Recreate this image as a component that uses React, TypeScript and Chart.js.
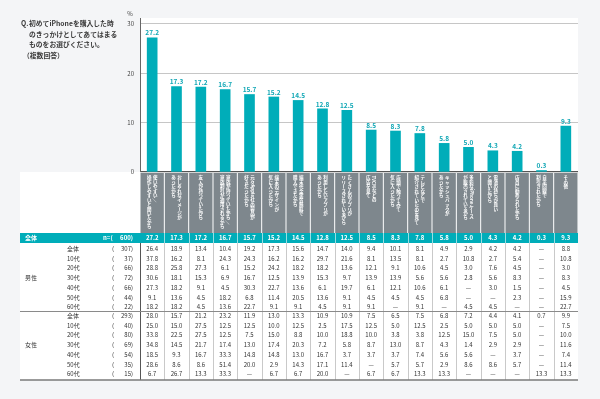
import React, { useEffect, useRef } from 'react';
import { Chart, registerables } from 'chart.js';

Chart.register(...registerables);

// ---------- DATA ----------
const categoryLabels: string[][] = [
  ['使いやすい／', '操作しやすいと聞いたから'],
  ['おしゃれなイメージが', 'あったから'],
  ['友人が持っていたから'],
  ['家族が持っていたから／', '家族割引が適用されるから'],
  ['元々Apple社の製品が', '好きだったから'],
  ['端末のデザインが', '気に入ったから'],
  ['端末代金実質無料で', '購入できたから'],
  ['利用したいアプリが', 'あったから'],
  ['たくさんのアプリが', 'リリースされているから'],
  ['TVCMなどの', '広告を見て'],
  ['店頭で触ってみて', '気に入ったから'],
  ['テレビなどで', '紹介されていたのを見て'],
  ['キャッシュバックが', 'あったから'],
  ['多彩なiPhoneケース', 'が販売されているから'],
  ['電池の持ちが良い', 'と聞いたから'],
  ['店員に勧められたから'],
  ['自宅回線で', '割引されたから'],
  ['その他'],
];

const totalValues = [27.2, 17.3, 17.2, 16.7, 15.7, 15.2, 14.5, 12.8, 12.5, 8.5, 8.3, 7.8, 5.8, 5.0, 4.3, 4.2, 0.3, 9.3];
const totalLabel = '全体';
const totalN = 600;

const yTicks = [0, 10, 20, 30];
const yUnit = '%';

const questionLines = ['初めてiPhoneを購入した時', 'のきっかけとしてあてはまる', 'ものをお選びください。', '（複数回答）'];

const ageGroups = ['全体', '10代', '20代', '30代', '40代', '50代', '60代'];

const maleLabel = '男性';
const maleCounts = [307, 37, 66, 72, 66, 44, 22];
const maleAll = [26.4, 18.9, 13.4, 10.4, 19.2, 17.3, 15.6, 14.7, 14.0, 9.4, 10.1, 8.1, 4.9, 2.9, 4.2, 4.2, null, 8.8];
const male10 = [37.8, 16.2, 8.1, 24.3, 24.3, 16.2, 16.2, 29.7, 21.6, 8.1, 13.5, 8.1, 2.7, 10.8, 2.7, 5.4, null, 10.8];
const male20 = [28.8, 25.8, 27.3, 6.1, 15.2, 24.2, 18.2, 18.2, 13.6, 12.1, 9.1, 10.6, 4.5, 3.0, 7.6, 4.5, null, 3.0];
const male30 = [30.6, 18.1, 15.3, 6.9, 16.7, 12.5, 13.9, 15.3, 9.7, 13.9, 13.9, 5.6, 5.6, 2.8, 5.6, 8.3, null, 8.3];
const male40 = [27.3, 18.2, 9.1, 4.5, 30.3, 22.7, 13.6, 6.1, 19.7, 6.1, 12.1, 10.6, 6.1, null, 3.0, 1.5, null, 4.5];
const male50 = [9.1, 13.6, 4.5, 18.2, 6.8, 11.4, 20.5, 13.6, 9.1, 4.5, 4.5, 4.5, 6.8, null, null, 2.3, null, 15.9];
const male60 = [18.2, 18.2, 4.5, 13.6, 22.7, 9.1, 9.1, 4.5, 9.1, 9.1, null, 9.1, null, 4.5, 4.5, null, null, 22.7];

const femaleLabel = '女性';
const femaleCounts = [293, 40, 80, 69, 54, 35, 15];
const femaleAll = [28.0, 15.7, 21.2, 23.2, 11.9, 13.0, 13.3, 10.9, 10.9, 7.5, 6.5, 7.5, 6.8, 7.2, 4.4, 4.1, 0.7, 9.9];
const female10 = [25.0, 15.0, 27.5, 12.5, 12.5, 10.0, 12.5, 2.5, 17.5, 12.5, 5.0, 12.5, 2.5, 5.0, 5.0, 5.0, null, 7.5];
const female20 = [33.8, 22.5, 27.5, 12.5, 7.5, 15.0, 8.8, 10.0, 18.8, 10.0, 3.8, 3.8, 12.5, 15.0, 7.5, 5.0, null, 10.0];
const female30 = [34.8, 14.5, 21.7, 17.4, 13.0, 17.4, 20.3, 7.2, 5.8, 8.7, 13.0, 8.7, 4.3, 1.4, 2.9, 2.9, null, 11.6];
const female40 = [18.5, 9.3, 16.7, 33.3, 14.8, 14.8, 13.0, 16.7, 3.7, 3.7, 3.7, 7.4, 5.6, 5.6, null, 3.7, null, 7.4];
const female50 = [28.6, 8.6, 8.6, 51.4, 20.0, 2.9, 14.3, 17.1, 11.4, null, 5.7, 5.7, 2.9, 8.6, 8.6, 5.7, null, 11.4];
const female60 = [6.7, 26.7, 13.3, 33.3, null, 6.7, 6.7, 20.0, null, 6.7, 6.7, 13.3, 13.3, null, null, null, 13.3, 13.3];

const maleRows = [maleAll, male10, male20, male30, male40, male50, male60];
const femaleRows = [femaleAll, female10, female20, female30, female40, female50, female60];

// ---------- STYLE ----------
const TEAL = '#00adb9';
const TEAL_TEXT = '#14a8b6';
const PAGE_BG = '#f4f5f7';
const HEADER_GRAY = '#7e878d';
const FONT = '"Noto Sans CJK JP", "Noto Sans", sans-serif';

const fmt = (v: number | null) => (v == null ? '—' : v.toFixed(1));

function drawVertical(ctx: CanvasRenderingContext2D, text: string, x: number, yTop: number, size: number, adv: number) {
  const tokens = text.match(/[A-Za-z0-9]+|./gu) || [];
  let y = yTop;
  for (const tok of tokens) {
    if (/^[A-Za-z0-9]+$/.test(tok)) {
      const w = ctx.measureText(tok).width;
      ctx.save();
      ctx.translate(x, y);
      ctx.rotate(Math.PI / 2);
      ctx.textAlign = 'left';
      ctx.textBaseline = 'middle';
      ctx.fillText(tok, 0, 0);
      ctx.restore();
      y += w + 0.3;
    } else if (tok === 'ー' || tok === '／') {
      ctx.save();
      ctx.translate(x, y + adv / 2);
      ctx.rotate(Math.PI / 2);
      ctx.textAlign = 'center';
      ctx.textBaseline = 'middle';
      ctx.fillText(tok, 0, 0);
      ctx.restore();
      y += adv;
    } else {
      ctx.textAlign = 'center';
      ctx.textBaseline = 'middle';
      ctx.fillText(tok, x, y + adv / 2);
      y += adv;
    }
  }
}

const customPlugin = {
  id: 'customDecor',
  beforeDraw(chart: any) {
    const { ctx, chartArea } = chart;
    ctx.save();
    ctx.fillStyle = PAGE_BG;
    ctx.fillRect(0, 0, chart.width, chart.height);
    ctx.fillStyle = '#ffffff';
    ctx.fillRect(chartArea.left, chartArea.top, chartArea.right - chartArea.left, chartArea.bottom - chartArea.top);
    ctx.fillRect(20, chartArea.bottom, chartArea.right - 20, 380 - chartArea.bottom);
    ctx.restore();
  },
  afterDatasetsDraw(chart: any) {
    const { ctx } = chart;
    const meta = chart.getDatasetMeta(0);
    ctx.save();
    ctx.fillStyle = TEAL_TEXT;
    ctx.font = `bold 6.5px ${FONT}`;
    ctx.textAlign = 'center';
    ctx.textBaseline = 'bottom';
    meta.data.forEach((bar: any, i: number) => {
      ctx.fillText(totalValues[i].toFixed(1), bar.x, bar.y - 1.5);
    });
    ctx.restore();
  },
  afterDraw(chart: any) {
    const { ctx, chartArea } = chart;
    const xs = chart.scales.x;
    const left = chartArea.left;
    const right = chartArea.right;
    const n = totalValues.length;
    const cw = (right - left) / n;
    const headTop = chartArea.bottom + 1;
    const headBottom = 233;
    const tealBottom = 243;
    const tableBottom = 380;

    ctx.save();
    // question text
    ctx.fillStyle = '#3a3a3a';
    ctx.font = `bold 6.8px ${FONT}`;
    ctx.textBaseline = 'middle';
    ctx.textAlign = 'left';
    ctx.fillText('Q.', 21, 23);
    const qy = [23, 34, 44.5, 55];
    questionLines.forEach((l, i) => ctx.fillText(l, i === 3 ? 23 : 29, qy[i]));

    // unit label
    ctx.fillStyle = '#444';
    ctx.font = `6px ${FONT}`;
    ctx.textAlign = 'center';
    ctx.fillText(yUnit, 130, 14);

    // header boxes
    for (let k = 0; k < n; k++) {
      const x0 = left + k * cw;
      ctx.fillStyle = HEADER_GRAY;
      ctx.fillRect(x0 + 0.5, headTop, cw - 1, headBottom - headTop);
    }
    ctx.fillStyle = '#ffffff';
    ctx.font = `bold 4.5px ${FONT}`;
    categoryLabels.forEach((lines, i) => {
      const cx = xs.getPixelForValue(i);
      const m = lines.length;
      lines.forEach((line, j) => {
        const lx = cx + ((m - 1) / 2 - j) * 6;
        drawVertical(ctx, line, lx, 175.5, 4.5, 4.45);
      });
    });

    // teal total row
    ctx.fillStyle = TEAL;
    ctx.fillRect(20, headBottom, right - 20, tealBottom - headBottom);
    ctx.fillStyle = '#ffffff';
    ctx.font = `bold 6px ${FONT}`;
    ctx.textBaseline = 'middle';
    const ty = (headBottom + tealBottom) / 2;
    ctx.textAlign = 'left';
    ctx.fillText(totalLabel, 25, ty);
    ctx.fillText('n=(', 103, ty);
    ctx.textAlign = 'right';
    ctx.fillText(`${totalN})`, 133, ty);
    ctx.textAlign = 'center';
    totalValues.forEach((v, i) => ctx.fillText(v.toFixed(1), xs.getPixelForValue(i), ty));

    // vertical separators
    for (let k = 0; k < n; k++) {
      const x = Math.round(left + k * cw) + 0.5;
      ctx.strokeStyle = 'rgba(255,255,255,0.6)';
      ctx.lineWidth = 1;
      if (k > 0) {
        ctx.beginPath();
        ctx.moveTo(x, headBottom);
        ctx.lineTo(x, tealBottom);
        ctx.stroke();
      }
      ctx.strokeStyle = k === 0 ? '#555' : '#c9c9c9';
      ctx.beginPath();
      ctx.moveTo(x, tealBottom);
      ctx.lineTo(x, tableBottom);
      ctx.stroke();
    }

    // rows
    const rowH = 9.75;
    const drawBlock = (groupLabel: string, counts: number[], rows: (number | null)[][], y0: number) => {
      ctx.fillStyle = '#333';
      ctx.font = `6px ${FONT}`;
      ctx.textBaseline = 'middle';
      ctx.textAlign = 'left';
      ctx.fillText(groupLabel, 25, y0 + rowH * 3);
      rows.forEach((vals, r) => {
        const y = y0 + r * rowH;
        ctx.textAlign = 'left';
        ctx.fillText(ageGroups[r], 67, y);
        ctx.fillText('(', 112, y);
        ctx.textAlign = 'right';
        ctx.fillText(`${counts[r]})`, 133, y);
        ctx.textAlign = 'center';
        vals.forEach((v, i) => ctx.fillText(fmt(v), xs.getPixelForValue(i), y));
      });
    };
    drawBlock(maleLabel, maleCounts, maleRows, 248.5);

    ctx.strokeStyle = '#8a8a8a';
    ctx.lineWidth = 1;
    ctx.beginPath();
    ctx.moveTo(20, 311.5);
    ctx.lineTo(right, 311.5);
    ctx.stroke();

    drawBlock(femaleLabel, femaleCounts, femaleRows, 315.5);

    ctx.strokeStyle = '#7a7a7a';
    ctx.lineWidth = 1.5;
    ctx.beginPath();
    ctx.moveTo(20, tableBottom);
    ctx.lineTo(right, tableBottom);
    ctx.stroke();

    ctx.restore();
  },
};

export default function App() {
  const canvasRef = useRef<HTMLCanvasElement | null>(null);

  useEffect(() => {
    if (!canvasRef.current) return;
    const chart = new Chart(canvasRef.current, {
      type: 'bar',
      data: {
        labels: categoryLabels.map((l) => l.join('')),
        datasets: [
          {
            data: totalValues,
            backgroundColor: TEAL,
            borderWidth: 0,
            barThickness: 10,
          },
        ],
      },
      options: {
        responsive: false,
        animation: false,
        devicePixelRatio: 1,
        layout: { padding: { left: 100, right: 22, top: 18, bottom: 227 } },
        plugins: { legend: { display: false }, tooltip: { enabled: false } },
        scales: {
          x: { display: false },
          y: {
            min: 0,
            max: 31.2,
            afterBuildTicks: (scale: any) => {
              scale.ticks = yTicks.map((v) => ({ value: v }));
            },
            afterFit: (scale: any) => {
              scale.width = 40;
            },
            grid: {
              color: (c: any) => (c.tick && c.tick.value === 0 ? '#555' : '#c6c6c6'),
              lineWidth: (c: any) => (c.tick && c.tick.value === 0 ? 1.2 : 1),
              drawTicks: false,
            },
            border: { display: true, color: '#666', width: 1 },
            ticks: {
              padding: 6,
              color: '#444',
              font: { size: 6, family: FONT },
              callback: (v: any) => String(v),
            },
          },
        },
      },
      plugins: [customPlugin],
    } as any);
    return () => chart.destroy();
  }, []);

  return (
    <div style={{ position: 'fixed', left: 0, top: 0, width: 600, height: 399 }}>
      <canvas ref={canvasRef} width={600} height={399} style={{ width: 600, height: 399, display: 'block' }} />
    </div>
  );
}
